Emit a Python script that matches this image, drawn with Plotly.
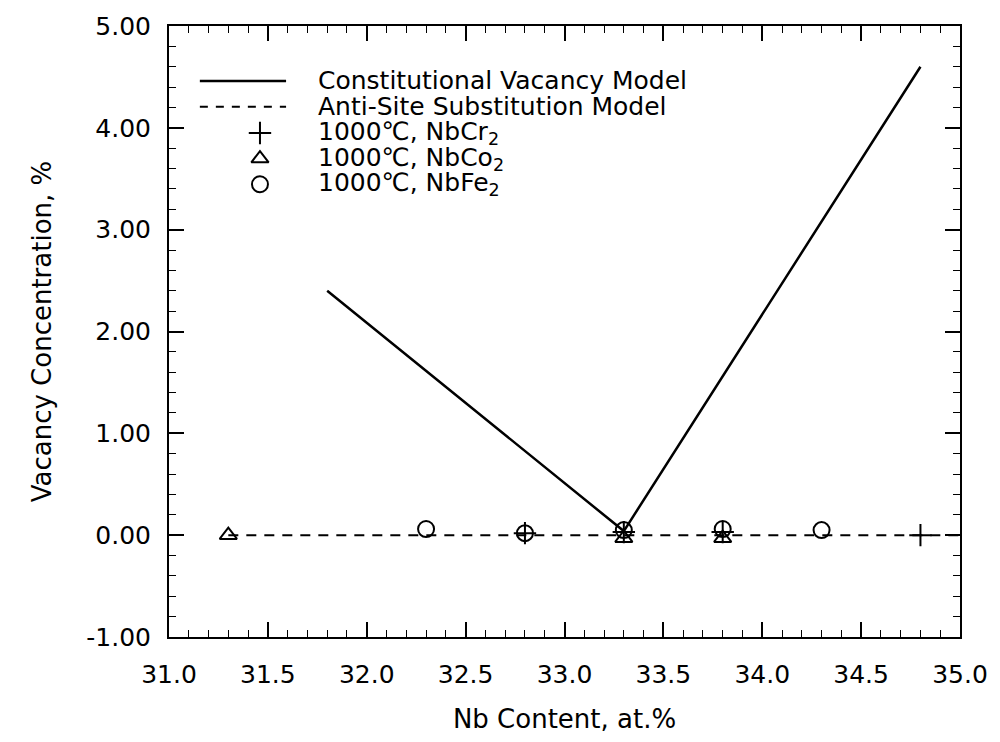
import plotly.graph_objects as go

# Vacancy concentration vs. Nb content for C15 Laves phases
nb_model = [31.8, 33.3, 34.8]
vac_model = [2.40, 0.04, 4.60]

nb_antisite = [31.3, 35.0]
vac_antisite = [0.0, 0.0]

nb_cr = [32.8, 33.3, 33.8, 34.8]
vac_cr = [0.02, 0.03, 0.03, 0.00]

nb_co = [31.3, 33.3, 33.8]
vac_co = [0.00, -0.03, -0.03]

nb_fe = [32.3, 32.8, 33.3, 33.8, 34.3]
vac_fe = [0.06, 0.02, 0.05, 0.06, 0.05]

x_ticks = [31.0, 31.5, 32.0, 32.5, 33.0, 33.5, 34.0, 34.5, 35.0]
y_ticks = [-1.0, 0.0, 1.0, 2.0, 3.0, 4.0, 5.0]

legend_labels = [
    "Constitutional Vacancy Model",
    "Anti-Site Substitution Model",
    "1000\u2103, NbCr<sub>2</sub>",
    "1000\u2103, NbCo<sub>2</sub>",
    "1000\u2103, NbFe<sub>2</sub>",
]

FONT = "DejaVu Sans, Liberation Sans, Arial, sans-serif"
INK = "black"

fig = go.Figure()

fig.add_trace(go.Scatter(x=nb_model, y=vac_model, mode="lines",
                         line=dict(color=INK, width=2.5), showlegend=False))
fig.add_trace(go.Scatter(x=nb_antisite, y=vac_antisite, mode="lines",
                         line=dict(color=INK, width=2, dash="10px,8px"),
                         showlegend=False))

marker_cr = dict(symbol="cross-thin-open", size=16, color=INK,
                 line=dict(color=INK, width=2))
marker_co = dict(symbol="triangle-up-open", size=15, color=INK,
                 line=dict(color=INK, width=2))
marker_fe = dict(symbol="circle-open", size=16, color=INK,
                 line=dict(color=INK, width=2))

fig.add_trace(go.Scatter(x=nb_fe, y=vac_fe, mode="markers", marker=marker_fe,
                         showlegend=False))
fig.add_trace(go.Scatter(x=nb_co, y=vac_co, mode="markers", marker=marker_co,
                         showlegend=False))
fig.add_trace(go.Scatter(x=nb_cr, y=vac_cr, mode="markers", marker=marker_cr,
                         showlegend=False))

# Hand-built key in the upper-left corner of the plot area
row_y = [0.910, 0.868, 0.825, 0.783, 0.741]
key_x0, key_x1, key_mark_x, key_text_x = 0.039, 0.148, 0.115, 0.186

fig.add_shape(type="line", xref="paper", yref="paper",
              x0=key_x0, x1=key_x1, y0=row_y[0], y1=row_y[0],
              line=dict(color=INK, width=2.5))
fig.add_shape(type="line", xref="paper", yref="paper",
              x0=key_x0, x1=key_x1, y0=row_y[1], y1=row_y[1],
              line=dict(color=INK, width=2, dash="8px,8px"))
for marker, yy in zip([marker_cr, marker_co, marker_fe], row_y[2:]):
    fig.add_trace(go.Scatter(x=[key_mark_x], y=[yy], mode="markers",
                             marker=marker, xaxis="x2", yaxis="y2",
                             showlegend=False, hoverinfo="skip"))
for label, yy in zip(legend_labels, row_y):
    fig.add_annotation(x=key_text_x, y=yy, xref="paper", yref="paper",
                       text=label, showarrow=False, xanchor="left",
                       yanchor="middle", font=dict(size=25, color=INK, family=FONT))

axis_common = dict(
    showline=True, linecolor=INK, linewidth=2, mirror="ticks",
    ticks="inside", ticklen=15, tickwidth=1.5, tickcolor=INK,
    showgrid=False, zeroline=False,
    tickfont=dict(size=25, color=INK, family=FONT),
)

fig.update_layout(
    width=1000, height=742,
    margin=dict(l=169, r=34, t=24, b=105),
    paper_bgcolor="white", plot_bgcolor="white",
    font=dict(family=FONT, color=INK, size=25),
    showlegend=False,
    xaxis=dict(**axis_common, range=[31.0, 35.0], tickvals=x_ticks,
               ticktext=[f"{v:.1f}" for v in x_ticks], ticklabelstandoff=14,
               minor=dict(dtick=0.1, ticks="inside", ticklen=7,
                          tickcolor=INK, tickwidth=1.2),
               title=dict(text="Nb Content, at.%", standoff=22,
                          font=dict(size=26, color=INK, family=FONT))),
    yaxis=dict(**axis_common, range=[-1.0, 5.0], tickvals=y_ticks,
               ticktext=[f"{v:.2f}" for v in y_ticks], ticklabelstandoff=11,
               minor=dict(dtick=0.2, ticks="inside", ticklen=7,
                          tickcolor=INK, tickwidth=1.2),
               title=dict(text="Vacancy Concentration, %", standoff=27,
                          font=dict(size=26, color=INK, family=FONT))),
    xaxis2=dict(range=[0, 1], overlaying="x", visible=False, fixedrange=True),
    yaxis2=dict(range=[0, 1], overlaying="y", visible=False, fixedrange=True),
)

fig.write_html("out.html")
